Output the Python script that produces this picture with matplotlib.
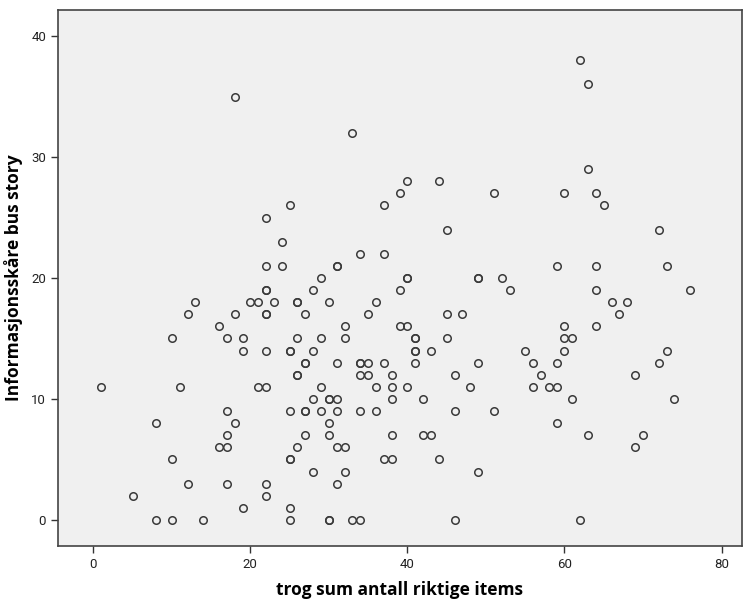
import matplotlib
matplotlib.use("Agg")
import matplotlib.pyplot as plt

# trog sum antall riktige items (x) vs Informasjonsskåre bus story (y)
# repeated pairs are overlapping cases
trog = [
    18, 33, 40, 44, 39, 51, 62, 63, 63, 60, 64,
    25, 22, 24, 22, 24, 22, 22,
    13, 20, 21, 23, 26, 26,
    12, 18, 22, 22, 27, 16,
    10, 17, 19, 26, 19, 22, 25, 25, 27, 27,
    37, 45, 34, 37, 31, 31, 29, 40, 40, 49, 49, 52,
    28, 39, 53, 30, 36, 35, 45, 47, 32, 39, 40,
    29, 32, 41, 41, 45, 28, 41, 41, 43, 55,
    31, 34, 34, 35, 37, 41, 49, 56,
    65, 72, 59, 64, 73, 64, 76, 66, 68, 67, 60, 64, 60, 61, 60, 73, 59, 72,
    26, 26, 1, 11, 21, 22, 17, 25, 27, 27, 8, 18, 17, 27, 16, 17, 26,
    10, 25, 25, 12, 17, 22, 5, 22, 19, 25, 8, 10, 14, 25,
    34, 35, 38, 46, 57, 29, 36, 38, 40, 48, 56,
    28, 30, 30, 31, 38, 42, 29, 31, 34, 36, 46, 51, 30,
    30, 38, 42, 43, 31, 32, 37, 38, 44, 28, 32, 49, 31,
    30, 30, 33, 34, 46,
    69, 58, 59, 61, 74, 59, 63, 70, 69, 62,
]
story = [
    35, 32, 28, 28, 27, 27, 38, 36, 29, 27, 27,
    26, 25, 23, 21, 21, 19, 19,
    18, 18, 18, 18, 18, 18,
    17, 17, 17, 17, 17, 16,
    15, 15, 15, 15, 14, 14, 14, 14, 13, 13,
    26, 24, 22, 22, 21, 21, 20, 20, 20, 20, 20, 20,
    19, 19, 19, 18, 18, 17, 17, 17, 16, 16, 16,
    15, 15, 15, 15, 15, 14, 14, 14, 14, 14,
    13, 13, 13, 13, 13, 13, 13, 13,
    26, 24, 21, 21, 21, 19, 19, 18, 18, 17, 16, 16, 15, 15, 14, 14, 13, 13,
    12, 12, 11, 11, 11, 11, 9, 9, 9, 9, 8, 8, 7, 7, 6, 6, 6,
    5, 5, 5, 3, 3, 3, 2, 2, 1, 1, 0, 0, 0, 0,
    12, 12, 12, 12, 12, 11, 11, 11, 11, 11, 11,
    10, 10, 10, 10, 10, 10, 9, 9, 9, 9, 9, 9, 8,
    7, 7, 7, 7, 6, 6, 5, 5, 5, 4, 4, 4, 3,
    0, 0, 0, 0, 0,
    12, 11, 11, 10, 10, 8, 7, 7, 6, 0,
]

x_ticks = [0, 20, 40, 60, 80]
y_ticks = [0, 10, 20, 30, 40]

fig = plt.figure(figsize=(7.48, 6.06), dpi=100)
ax = fig.add_axes([0.0775, 0.099, 0.9144, 0.8845])
ax.set_facecolor("#f0f0f0")

ax.plot(trog, story, linestyle="none", marker="o", markersize=5.4,
        markerfacecolor="none", markeredgecolor="#3a3a3a", markeredgewidth=1.1)

ax.set_xlim(-4.5, 82.6)
ax.set_ylim(-2.15, 42.15)
ax.set_xticks(x_ticks)
ax.set_yticks(y_ticks)

for s in ax.spines.values():
    s.set_color("#444444")
    s.set_linewidth(1.2)

ax.tick_params(direction="out", length=5, width=1, color="#333333",
               labelsize=9.5, labelcolor="#222222")
for t in ax.get_xticklabels() + ax.get_yticklabels():
    t.set_family(["Roboto", "DejaVu Sans"])

ax.set_xlabel("trog sum antall riktige items", fontsize=12.5, fontweight="bold",
              family=["Open Sans", "DejaVu Sans"], labelpad=7)
ax.set_ylabel("Informasjonsskåre bus story", fontsize=12.5, fontweight="bold",
              family=["Open Sans", "DejaVu Sans"], labelpad=6)

fig.savefig("out.png", dpi=100, facecolor="white")
